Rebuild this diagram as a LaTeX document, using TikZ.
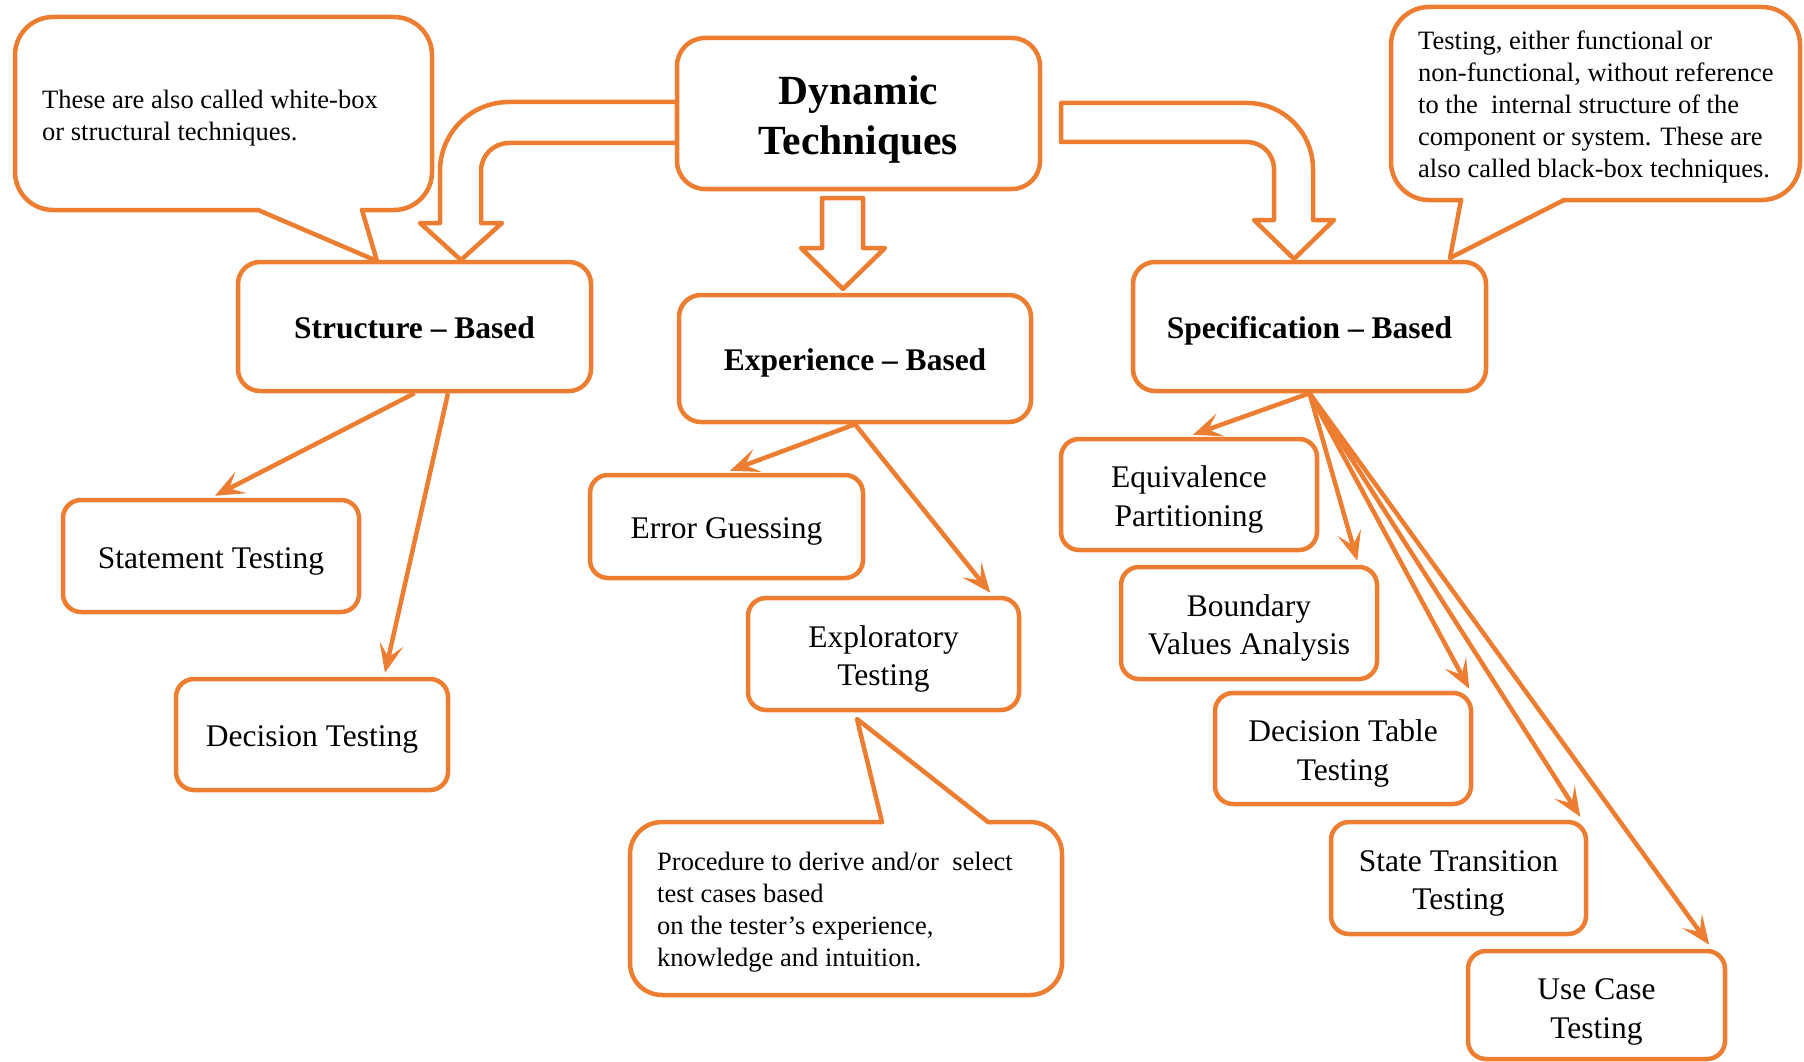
\documentclass[tikz,border=0pt]{standalone}
\usepackage{fontspec}
\setmainfont{Liberation Serif}
\usetikzlibrary{arrows.meta,calc}
\definecolor{org}{RGB}{237,125,49}
\newcommand{\mlines}[2][4.6pt]{\raisebox{-#1}[\height][\depth]{\begin{tabular}{@{}c@{}}#2\end{tabular}}}
\begin{document}
\begin{tikzpicture}[x=1pt,y=-1pt,
  box/.style={draw=org, line width=4.5pt, fill=white, rounded corners=18pt, inner sep=0pt,
              font=\fontsize{31.5}{38.5}\selectfont},
  headbox/.style={box, rounded corners=22pt, font=\fontsize{31.5}{38.5}\selectfont\bfseries},
  band/.style={draw=org, line width=4.5pt, fill=white, line join=round},
  arr/.style={draw=org, line width=4.5pt, -{Stealth[length=29pt,width=24pt,inset=13pt]}},
  co/.style={draw=org, line width=4.5pt, line cap=round, line join=round},
  cotext/.style={font=\fontsize{26.5}{32}\selectfont, align=left, inner sep=0pt, anchor=west}
]
\useasboundingbox (0,0) rectangle (1804,1062);
\fill[white] (0,0) rectangle (1804,1062);

% ---- thick arrows from Dynamic Techniques
\draw[band] (677,102) -- (509,102) .. controls (470.9,102) and (440,132.9) .. (440,171)
  -- (440,223) -- (420,223) -- (461,260) -- (502,223) -- (481,223) -- (481,171)
  .. controls (481,155.5) and (493.5,143) .. (509,143) -- (677,143) -- cycle;
\draw[band] (1061,103) -- (1247,103) .. controls (1283.45,103) and (1313,132.55) .. (1313,169)
  -- (1313,220) -- (1334,220) -- (1294,259) -- (1254,220) -- (1274,220) -- (1274,169)
  .. controls (1274,154.1) and (1261.9,142) .. (1247,142) -- (1061,142) -- cycle;
\draw[band] (822,198) -- (863,198) -- (863,248) -- (885,248) -- (843,289) -- (801,248) -- (822,248) -- cycle;

% ---- main nodes
\node[box, rounded corners=28pt, minimum width=363pt, minimum height=151pt,
      font=\fontsize{41.5}{50}\selectfont\bfseries] (dyn) at (858.5,113.5) {\mlines[5.8pt]{Dynamic\\Techniques}};
\node[headbox, minimum width=353pt, minimum height=129pt] (struct) at (414.5,326.5) {\mlines{Structure -- Based}};
\node[headbox, minimum width=352pt, minimum height=127pt] (exp) at (855,358.5) {\mlines{Experience -- Based}};
\node[headbox, minimum width=353pt, minimum height=129pt] (spec) at (1309.5,326.5) {\mlines{Specification -- Based}};

\node[box, minimum width=296pt, minimum height=112pt] (stmt) at (211,556) {\mlines{Statement Testing}};
\node[box, minimum width=272pt, minimum height=111pt] (dect) at (312,734.5) {\mlines{Decision Testing}};
\node[box, minimum width=273pt, minimum height=103pt] (err) at (726.5,526.5) {\mlines{Error Guessing}};
\node[box, minimum width=271pt, minimum height=112pt] (expl) at (883.5,654) {\mlines{Exploratory\\Testing}};
\node[box, minimum width=256pt, minimum height=111pt] (eqp) at (1189,494.5) {\mlines{Equivalence\\Partitioning}};
\node[box, minimum width=256pt, minimum height=112pt] (bva) at (1249,623) {\mlines{Boundary\\Values Analysis}};
\node[box, minimum width=256pt, minimum height=111pt] (dtt) at (1343,748.5) {\mlines{Decision Table\\Testing}};
\node[box, minimum width=255pt, minimum height=112pt] (stt) at (1458.5,878) {\mlines{State Transition\\Testing}};
\node[box, minimum width=257pt, minimum height=108pt] (uct) at (1596.5,1005) {\mlines[6.3pt]{Use Case\\Testing}};

% ---- connectors
\draw[arr] (struct.south) -- ($(stmt.north)+(4,-2)$);
\draw[arr] ($(struct.south)+(33.5,0)$) -- ($(dect.north)+(73,-4)$);
\draw[arr] (exp.south) -- ($(err.north)+(3.5,-2)$);
\draw[arr] (exp.south) -- ($(expl.north east)+(-31,-3)$);
\draw[arr] (spec.south) -- ($(eqp.north)+(4,-2)$);
\draw[arr] (spec.south) -- ($(bva.north east)+(-22,-4)$);
\draw[arr] (spec.south) -- ($(dtt.north east)+(-4,-2)$);
\draw[arr] (spec.south) -- ($(stt.north east)+(-8,-3)$);
\draw[arr] (spec.south) -- ($(uct.north east)+(-18,-4)$);

% ---- callout top-left
\fill[white, rounded corners=38pt] (15,17) rectangle (432,210);
\fill[white] (258,210) -- (377,261) -- (362,210) -- cycle;
\draw[co, rounded corners=38pt] (362,210) -- (432,210) -- (432,17) -- (15,17) -- (15,210) -- (258,210);
\draw[co] (258,210) -- (377,261) -- (362,210);
\node[cotext] (t1) at (42,118.5) {These are also called white-box\\or structural techniques.};

% ---- callout top-right
\fill[white, rounded corners=38pt] (1391,7) rectangle (1800,200);
\fill[white] (1461,200) -- (1450,258) -- (1564,200) -- cycle;
\draw[co, rounded corners=38pt] (1564,200) -- (1800,200) -- (1800,7) -- (1391,7) -- (1391,200) -- (1461,200);
\draw[co] (1461,200) -- (1450,258) -- (1564,200);
\node[cotext] (t2) at (1418,106.5) {Testing, either functional or\\non-functional, without reference\\to the\ \ internal structure of the\\component or system. These are\\also called black-box techniques.};

% ---- callout bottom
\fill[white, rounded corners=32pt] (630,822) rectangle (1062,995);
\fill[white] (882,822) -- (857,719) -- (988,822) -- cycle;
\draw[co, rounded corners=32pt] (988,822) -- (1062,822) -- (1062,995) -- (630,995) -- (630,822) -- (882,822);
\draw[co] (882,822) -- (857,719) -- (988,822);
\node[cotext] (t3) at (657,912) {Procedure to derive and/or\ \ select\\test cases based\\on the tester’s experience,\\knowledge and intuition.};
\end{tikzpicture}
\end{document}
